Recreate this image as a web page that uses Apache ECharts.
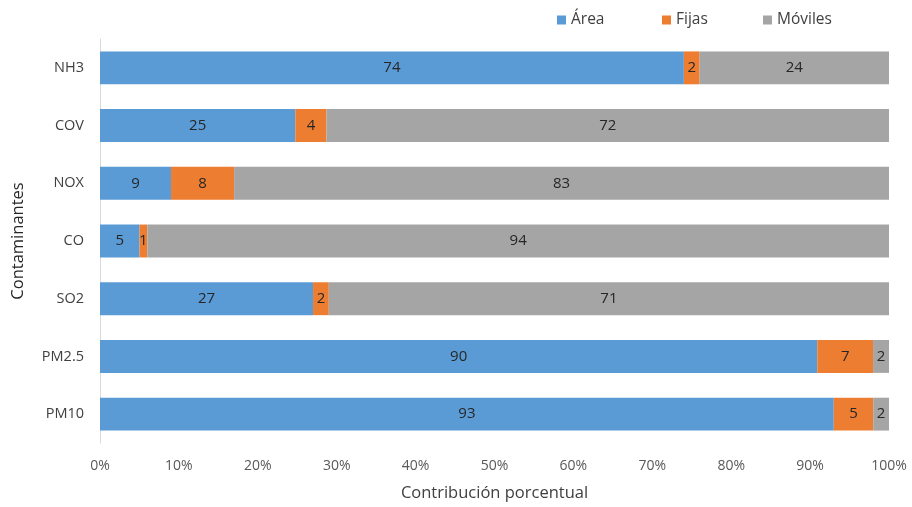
<!DOCTYPE html>
<html>
<head>
<meta charset="utf-8">
<script src="https://cdn.jsdelivr.net/npm/echarts@6/dist/echarts.min.js"></script>
<style>
  html, body { margin: 0; padding: 0; background: #fff; }
  #chart { width: 912px; height: 507px; }
</style>
</head>
<body>
<div id="chart"></div>
<script>
// Pollutants and the share (%) contributed by each source type
const categories = ['NH3', 'COV', 'NOX', 'CO', 'SO2', 'PM2.5', 'PM10'];
const area    = [74, 25, 9, 5, 27, 90, 93];
const fijas   = [2, 4, 8, 1, 2, 7, 5];
const moviles = [24, 72, 83, 94, 71, 2, 2];
const xTicks  = [0, 10, 20, 30, 40, 50, 60, 70, 80, 90, 100];

const seriesNames = ['Área', 'Fijas', 'Móviles'];
const seriesValues = [area, fijas, moviles];
const colors = ['#5B9BD5', '#ED7D31', '#A5A5A5'];
const legendLeft = [557, 662, 763];

// 100% stacked: each segment is drawn as its share of the row total
const totals = categories.map((_, i) => area[i] + fijas[i] + moviles[i]);

const font = 'Open Sans, Noto Sans, sans-serif';

const chart = echarts.init(document.getElementById('chart'), null, { renderer: 'canvas' });
chart.setOption({
  animation: false,
  color: colors,
  textStyle: { fontFamily: font },
  legend: seriesNames.map((name, s) => ({
    top: 12,
    left: legendLeft[s],
    padding: 0,
    itemWidth: 9,
    itemHeight: 9,
    icon: 'rect',
    textStyle: { fontSize: 15.5, color: '#404040', fontFamily: font },
    data: [name]
  })),
  grid: { left: 100, right: 23, top: 39, bottom: 62, containLabel: false },
  xAxis: {
    type: 'value',
    min: xTicks[0],
    max: xTicks[xTicks.length - 1],
    interval: xTicks[1] - xTicks[0],
    name: 'Contribución porcentual',
    nameLocation: 'middle',
    nameGap: 42,
    nameTextStyle: { fontSize: 16.5, color: '#404040', fontFamily: font },
    axisLine: { show: false },
    axisTick: { show: false },
    splitLine: { show: false },
    axisLabel: { formatter: '{value}%', fontSize: 14, color: '#595959', margin: 16, fontFamily: font }
  },
  yAxis: {
    type: 'category',
    inverse: true,
    data: categories,
    name: 'Contaminantes',
    nameLocation: 'middle',
    nameGap: 73,
    nameRotate: 90,
    nameTextStyle: { fontSize: 16.5, color: '#262626', fontFamily: font },
    axisLine: { show: true, lineStyle: { color: '#D9D9D9', width: 1 } },
    axisTick: { show: false },
    axisLabel: { fontSize: 14.5, color: '#404040', margin: 16, fontFamily: font }
  },
  series: seriesValues.map((vals, s) => ({
    name: seriesNames[s],
    type: 'bar',
    stack: 'total',
    barWidth: '57%',
    data: vals.map((v, i) => v / totals[i] * 100),
    itemStyle: { color: colors[s] },
    label: {
      show: true,
      position: 'inside',
      fontSize: 15,
      color: '#262626',
      fontFamily: font,
      formatter: p => String(vals[p.dataIndex])
    }
  }))
});
</script>
</body>
</html>
